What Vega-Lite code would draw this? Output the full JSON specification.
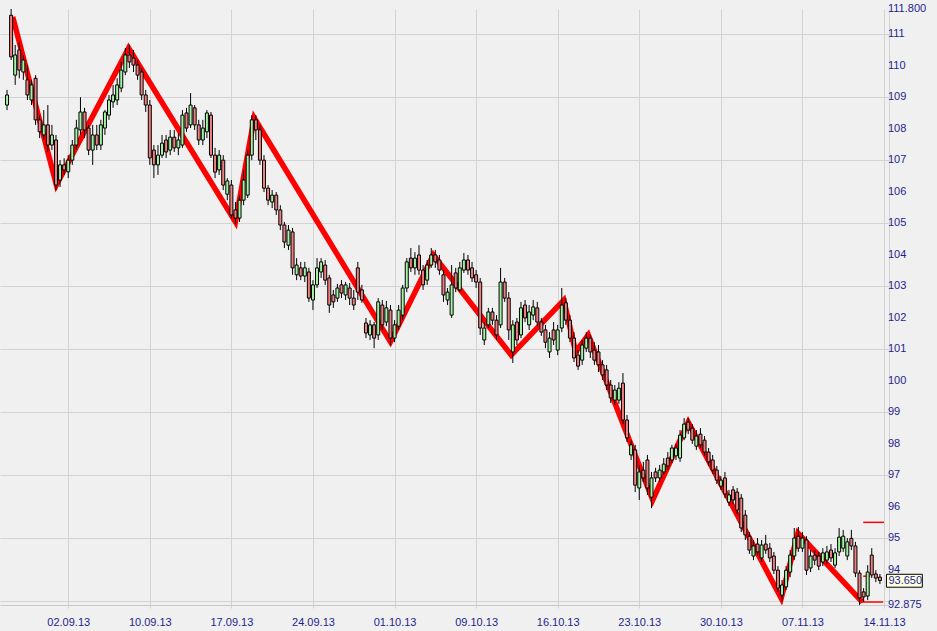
{
  "$schema": "https://vega.github.io/schema/vega-lite/v6.json",
  "width": 889,
  "height": 596,
  "autosize": {"type": "none"},
  "padding": {"left": 0, "top": 9, "right": 48, "bottom": 26},
  "background": "#f0f0f0",
  "config": {"view": {"stroke": null}, "axis": {"labelOverlap": false, "title": null}},
  "datasets": {
    "candles": [
      {"i":5,"o":108.75,"h":109.23,"l":108.59,"c":109.07},
      {"i":6,"o":111.6,"h":111.8,"l":110.18,"c":110.28},
      {"i":7,"o":109.7,"h":110.66,"l":109.39,"c":110.34},
      {"i":8,"o":110.5,"h":110.75,"l":109.6,"c":109.86},
      {"i":9,"o":109.8,"h":110.34,"l":109.55,"c":110.18},
      {"i":10,"o":109.55,"h":110.02,"l":108.91,"c":109.07},
      {"i":11,"o":108.91,"h":109.55,"l":108.75,"c":109.39},
      {"i":12,"o":109.6,"h":109.7,"l":108.12,"c":108.28},
      {"i":13,"o":108.28,"h":108.43,"l":107.7,"c":107.9},
      {"i":14,"o":107.8,"h":108.59,"l":107.64,"c":108.12},
      {"i":15,"o":108.12,"h":108.75,"l":107.26,"c":107.48},
      {"i":16,"o":107.48,"h":108.12,"l":107.32,"c":107.8},
      {"i":17,"o":107.64,"h":107.8,"l":106.05,"c":106.21},
      {"i":18,"o":106.37,"h":107.0,"l":106.15,"c":106.85},
      {"i":19,"o":106.85,"h":107.06,"l":106.53,"c":106.69},
      {"i":20,"o":106.63,"h":107.16,"l":106.43,"c":107.0},
      {"i":21,"o":107.0,"h":107.64,"l":106.85,"c":107.48},
      {"i":22,"o":107.48,"h":108.28,"l":107.32,"c":108.02},
      {"i":23,"o":107.96,"h":109.0,"l":107.8,"c":108.53},
      {"i":24,"o":108.53,"h":108.66,"l":107.7,"c":107.96},
      {"i":25,"o":108.02,"h":108.12,"l":107.16,"c":107.32},
      {"i":26,"o":107.32,"h":108.12,"l":106.85,"c":107.8},
      {"i":27,"o":107.8,"h":108.12,"l":107.32,"c":107.48},
      {"i":28,"o":107.48,"h":108.28,"l":107.32,"c":108.12},
      {"i":29,"o":108.02,"h":108.59,"l":107.8,"c":108.53},
      {"i":30,"o":108.43,"h":109.07,"l":108.28,"c":108.91},
      {"i":31,"o":108.85,"h":109.39,"l":108.66,"c":109.07},
      {"i":32,"o":108.91,"h":109.6,"l":108.75,"c":109.39},
      {"i":33,"o":109.29,"h":110.12,"l":109.16,"c":109.86},
      {"i":34,"o":109.8,"h":110.56,"l":109.7,"c":110.34},
      {"i":35,"o":110.34,"h":110.66,"l":109.93,"c":110.12},
      {"i":36,"o":110.24,"h":110.5,"l":109.8,"c":110.02},
      {"i":37,"o":110.02,"h":110.18,"l":109.55,"c":109.7},
      {"i":38,"o":109.8,"h":109.93,"l":108.91,"c":109.07},
      {"i":39,"o":109.07,"h":109.23,"l":108.53,"c":108.75},
      {"i":40,"o":108.75,"h":108.91,"l":106.85,"c":107.07},
      {"i":41,"o":107.32,"h":107.48,"l":106.43,"c":106.85},
      {"i":42,"o":106.85,"h":107.48,"l":106.53,"c":107.16},
      {"i":43,"o":107.16,"h":107.8,"l":107.07,"c":107.54},
      {"i":44,"o":107.64,"h":107.8,"l":107.07,"c":107.26},
      {"i":45,"o":107.32,"h":107.96,"l":107.16,"c":107.73},
      {"i":46,"o":107.73,"h":107.96,"l":107.26,"c":107.39},
      {"i":47,"o":107.39,"h":107.86,"l":107.16,"c":107.64},
      {"i":48,"o":107.48,"h":108.59,"l":107.39,"c":108.43},
      {"i":49,"o":108.5,"h":108.66,"l":107.9,"c":108.02},
      {"i":50,"o":108.12,"h":109.13,"l":108.02,"c":108.75},
      {"i":51,"o":108.66,"h":108.75,"l":107.96,"c":108.12},
      {"i":52,"o":108.12,"h":108.28,"l":107.48,"c":107.64},
      {"i":53,"o":107.64,"h":108.28,"l":107.48,"c":108.02},
      {"i":54,"o":107.9,"h":108.59,"l":107.7,"c":108.5},
      {"i":55,"o":108.43,"h":108.53,"l":107.07,"c":107.16},
      {"i":56,"o":107.16,"h":107.39,"l":106.43,"c":106.62},
      {"i":57,"o":106.69,"h":107.32,"l":106.53,"c":107.16},
      {"i":58,"o":107.0,"h":107.16,"l":106.05,"c":106.21},
      {"i":59,"o":105.92,"h":106.43,"l":105.73,"c":106.34},
      {"i":60,"o":106.21,"h":106.37,"l":105.16,"c":105.26},
      {"i":61,"o":105.42,"h":105.67,"l":104.97,"c":105.16},
      {"i":62,"o":105.16,"h":105.89,"l":105.04,"c":105.73},
      {"i":63,"o":105.73,"h":106.69,"l":105.57,"c":106.37},
      {"i":64,"o":105.89,"h":107.32,"l":105.8,"c":107.16},
      {"i":65,"o":107.16,"h":108.43,"l":107.0,"c":108.28},
      {"i":66,"o":108.28,"h":108.43,"l":107.64,"c":107.96},
      {"i":67,"o":107.96,"h":108.12,"l":106.85,"c":107.0},
      {"i":68,"o":107.0,"h":107.16,"l":105.99,"c":106.11},
      {"i":69,"o":106.11,"h":106.21,"l":105.57,"c":105.73},
      {"i":70,"o":105.67,"h":106.05,"l":105.48,"c":105.89},
      {"i":71,"o":105.89,"h":105.99,"l":105.26,"c":105.42},
      {"i":72,"o":105.42,"h":105.57,"l":104.78,"c":104.94},
      {"i":73,"o":104.94,"h":105.04,"l":104.21,"c":104.4},
      {"i":74,"o":104.3,"h":104.94,"l":104.15,"c":104.78},
      {"i":75,"o":104.72,"h":104.85,"l":103.36,"c":103.58},
      {"i":76,"o":103.36,"h":103.89,"l":103.19,"c":103.67},
      {"i":77,"o":103.58,"h":103.77,"l":103.19,"c":103.32},
      {"i":78,"o":103.32,"h":103.77,"l":103.13,"c":103.58},
      {"i":79,"o":103.45,"h":103.58,"l":102.5,"c":102.62},
      {"i":80,"o":102.56,"h":103.19,"l":102.24,"c":103.04},
      {"i":81,"o":103.04,"h":103.89,"l":102.94,"c":103.58},
      {"i":82,"o":103.45,"h":103.89,"l":103.26,"c":103.77},
      {"i":83,"o":103.67,"h":103.83,"l":103.04,"c":103.19},
      {"i":84,"o":103.26,"h":103.36,"l":102.15,"c":102.4},
      {"i":85,"o":102.72,"h":102.88,"l":102.31,"c":102.5},
      {"i":86,"o":102.62,"h":103.07,"l":102.5,"c":102.94},
      {"i":87,"o":103.04,"h":103.19,"l":102.62,"c":102.78},
      {"i":88,"o":102.72,"h":103.13,"l":102.56,"c":103.04},
      {"i":89,"o":102.94,"h":103.1,"l":102.4,"c":102.62},
      {"i":90,"o":102.62,"h":102.88,"l":102.24,"c":102.4},
      {"i":91,"o":103.58,"h":103.77,"l":102.56,"c":102.81},
      {"i":92,"o":102.88,"h":103.04,"l":102.47,"c":102.56},
      {"i":93,"o":101.83,"h":101.99,"l":101.35,"c":101.51},
      {"i":94,"o":101.45,"h":101.92,"l":101.29,"c":101.77},
      {"i":95,"o":101.77,"h":101.86,"l":101.03,"c":101.35},
      {"i":96,"o":101.45,"h":102.62,"l":101.29,"c":102.5},
      {"i":97,"o":102.4,"h":102.56,"l":101.61,"c":101.77},
      {"i":98,"o":101.86,"h":102.53,"l":101.73,"c":102.31},
      {"i":99,"o":102.24,"h":102.4,"l":101.13,"c":101.35},
      {"i":100,"o":101.35,"h":101.92,"l":101.22,"c":101.77},
      {"i":101,"o":101.73,"h":102.4,"l":101.61,"c":102.24},
      {"i":102,"o":102.08,"h":103.04,"l":101.92,"c":102.94},
      {"i":103,"o":102.94,"h":103.89,"l":102.81,"c":103.77},
      {"i":104,"o":103.89,"h":104.21,"l":103.45,"c":103.58},
      {"i":105,"o":103.58,"h":104.08,"l":103.36,"c":103.89},
      {"i":106,"o":103.99,"h":104.3,"l":103.36,"c":103.51},
      {"i":107,"o":103.51,"h":103.67,"l":102.88,"c":103.04},
      {"i":108,"o":103.19,"h":103.83,"l":103.04,"c":103.67},
      {"i":109,"o":103.67,"h":104.21,"l":103.58,"c":103.99},
      {"i":110,"o":103.99,"h":104.15,"l":103.58,"c":103.77},
      {"i":111,"o":103.83,"h":103.99,"l":103.36,"c":103.51},
      {"i":112,"o":103.36,"h":103.51,"l":102.5,"c":102.72},
      {"i":113,"o":102.56,"h":102.94,"l":102.4,"c":102.81},
      {"i":114,"o":102.08,"h":103.67,"l":101.99,"c":103.04},
      {"i":115,"o":103.42,"h":103.58,"l":102.81,"c":102.94},
      {"i":116,"o":102.88,"h":103.77,"l":102.81,"c":103.58},
      {"i":117,"o":103.51,"h":104.05,"l":103.42,"c":103.83},
      {"i":118,"o":103.83,"h":103.99,"l":103.36,"c":103.51},
      {"i":119,"o":103.58,"h":103.77,"l":103.13,"c":103.26},
      {"i":120,"o":103.36,"h":103.51,"l":102.94,"c":103.13},
      {"i":121,"o":103.13,"h":103.26,"l":101.45,"c":101.67},
      {"i":122,"o":101.29,"h":101.86,"l":101.13,"c":101.67},
      {"i":123,"o":101.77,"h":102.31,"l":101.67,"c":102.18},
      {"i":124,"o":102.18,"h":102.31,"l":101.77,"c":101.92},
      {"i":125,"o":101.92,"h":102.08,"l":101.29,"c":101.45},
      {"i":126,"o":101.77,"h":103.58,"l":101.67,"c":103.13},
      {"i":127,"o":103.13,"h":103.26,"l":102.5,"c":102.62},
      {"i":128,"o":102.62,"h":102.81,"l":101.29,"c":101.61},
      {"i":129,"o":100.91,"h":101.92,"l":100.56,"c":101.77},
      {"i":130,"o":101.86,"h":101.99,"l":101.13,"c":101.29},
      {"i":131,"o":101.45,"h":102.5,"l":101.35,"c":102.31},
      {"i":132,"o":102.4,"h":102.56,"l":101.86,"c":101.99},
      {"i":133,"o":101.77,"h":102.4,"l":101.61,"c":102.18},
      {"i":134,"o":102.08,"h":102.56,"l":101.92,"c":102.34},
      {"i":135,"o":102.31,"h":102.5,"l":101.73,"c":101.86},
      {"i":136,"o":101.86,"h":101.99,"l":101.42,"c":101.54},
      {"i":137,"o":101.61,"h":101.77,"l":101.03,"c":101.22},
      {"i":138,"o":100.91,"h":101.54,"l":100.72,"c":101.35},
      {"i":139,"o":101.61,"h":101.86,"l":101.13,"c":101.29},
      {"i":140,"o":100.97,"h":101.77,"l":100.81,"c":101.61},
      {"i":141,"o":101.67,"h":102.94,"l":101.54,"c":102.4},
      {"i":142,"o":102.47,"h":102.62,"l":101.77,"c":101.92},
      {"i":143,"o":101.92,"h":102.08,"l":101.22,"c":101.35},
      {"i":144,"o":101.35,"h":101.54,"l":100.59,"c":100.72},
      {"i":145,"o":100.81,"h":100.97,"l":100.34,"c":100.46},
      {"i":146,"o":100.65,"h":101.29,"l":100.5,"c":101.13},
      {"i":147,"o":101.03,"h":101.54,"l":100.91,"c":101.35},
      {"i":148,"o":101.35,"h":101.45,"l":100.72,"c":100.91},
      {"i":149,"o":100.97,"h":101.22,"l":100.5,"c":100.65},
      {"i":150,"o":100.91,"h":101.13,"l":100.27,"c":100.5},
      {"i":151,"o":100.5,"h":100.65,"l":100.02,"c":100.18},
      {"i":152,"o":100.34,"h":100.5,"l":99.7,"c":99.86},
      {"i":153,"o":99.86,"h":100.02,"l":99.29,"c":99.45},
      {"i":154,"o":99.38,"h":99.86,"l":99.23,"c":99.7},
      {"i":155,"o":99.38,"h":99.95,"l":99.26,"c":99.76},
      {"i":156,"o":99.92,"h":100.24,"l":98.62,"c":98.75},
      {"i":157,"o":98.75,"h":98.91,"l":98.05,"c":98.18},
      {"i":158,"o":97.64,"h":98.11,"l":97.48,"c":97.96},
      {"i":159,"o":97.8,"h":97.96,"l":96.46,"c":96.68},
      {"i":160,"o":96.59,"h":97.32,"l":96.21,"c":97.1},
      {"i":161,"o":97.16,"h":97.42,"l":96.78,"c":96.91},
      {"i":162,"o":97.48,"h":97.64,"l":96.37,"c":96.59},
      {"i":163,"o":96.3,"h":97.1,"l":95.95,"c":96.91},
      {"i":164,"o":97.1,"h":97.23,"l":96.78,"c":96.91},
      {"i":165,"o":96.91,"h":97.32,"l":96.78,"c":97.16},
      {"i":166,"o":97.1,"h":97.54,"l":97.0,"c":97.35},
      {"i":167,"o":97.54,"h":97.73,"l":97.16,"c":97.29},
      {"i":168,"o":97.48,"h":97.96,"l":97.38,"c":97.86},
      {"i":169,"o":97.61,"h":98.0,"l":97.48,"c":97.86},
      {"i":170,"o":97.54,"h":98.43,"l":97.42,"c":98.27},
      {"i":171,"o":98.18,"h":98.81,"l":98.11,"c":98.62},
      {"i":172,"o":98.68,"h":98.81,"l":98.3,"c":98.43},
      {"i":173,"o":98.49,"h":98.62,"l":97.99,"c":98.11},
      {"i":174,"o":97.92,"h":98.43,"l":97.8,"c":98.24},
      {"i":175,"o":98.3,"h":98.49,"l":97.86,"c":97.96},
      {"i":176,"o":98.11,"h":98.24,"l":97.61,"c":97.73},
      {"i":177,"o":97.73,"h":97.86,"l":97.29,"c":97.42},
      {"i":178,"o":97.48,"h":97.64,"l":97.04,"c":97.16},
      {"i":179,"o":97.16,"h":97.29,"l":96.72,"c":96.84},
      {"i":180,"o":96.65,"h":96.97,"l":96.53,"c":96.84},
      {"i":181,"o":96.91,"h":97.1,"l":96.27,"c":96.4},
      {"i":182,"o":96.14,"h":96.53,"l":96.02,"c":96.37},
      {"i":183,"o":96.53,"h":96.65,"l":96.08,"c":96.21},
      {"i":184,"o":96.46,"h":96.59,"l":95.76,"c":95.89},
      {"i":185,"o":96.27,"h":96.4,"l":95.19,"c":95.32},
      {"i":186,"o":95.73,"h":95.89,"l":94.94,"c":95.1},
      {"i":187,"o":95.06,"h":95.19,"l":94.5,"c":94.62},
      {"i":188,"o":94.43,"h":94.94,"l":94.3,"c":94.75},
      {"i":189,"o":94.81,"h":95.0,"l":94.43,"c":94.56},
      {"i":190,"o":94.37,"h":94.94,"l":94.24,"c":94.78},
      {"i":191,"o":94.81,"h":95.1,"l":94.5,"c":94.62},
      {"i":192,"o":94.68,"h":94.84,"l":94.24,"c":94.37},
      {"i":193,"o":94.43,"h":94.56,"l":93.86,"c":93.98},
      {"i":194,"o":93.98,"h":94.11,"l":93.29,"c":93.41},
      {"i":195,"o":93.19,"h":93.67,"l":92.99,"c":93.51},
      {"i":196,"o":93.45,"h":94.11,"l":93.35,"c":93.98},
      {"i":197,"o":93.92,"h":94.62,"l":93.76,"c":94.46},
      {"i":198,"o":94.43,"h":95.32,"l":94.3,"c":95.0},
      {"i":199,"o":95.06,"h":95.35,"l":94.56,"c":94.68},
      {"i":200,"o":94.68,"h":95.19,"l":94.56,"c":95.0},
      {"i":201,"o":94.94,"h":95.06,"l":93.83,"c":93.98},
      {"i":202,"o":94.05,"h":94.62,"l":93.92,"c":94.43},
      {"i":203,"o":94.46,"h":94.62,"l":94.14,"c":94.3},
      {"i":204,"o":94.43,"h":94.56,"l":93.98,"c":94.11},
      {"i":205,"o":94.24,"h":94.68,"l":94.11,"c":94.53},
      {"i":206,"o":94.3,"h":94.75,"l":94.18,"c":94.56},
      {"i":207,"o":94.62,"h":94.81,"l":94.24,"c":94.37},
      {"i":208,"o":94.14,"h":94.68,"l":94.05,"c":94.53},
      {"i":209,"o":94.56,"h":95.32,"l":94.43,"c":95.03},
      {"i":210,"o":94.68,"h":95.26,"l":94.56,"c":95.06},
      {"i":211,"o":94.43,"h":95.0,"l":94.3,"c":94.88},
      {"i":212,"o":94.99,"h":95.26,"l":94.62,"c":94.75},
      {"i":213,"o":94.75,"h":94.88,"l":93.76,"c":93.89},
      {"i":214,"o":93.89,"h":93.98,"l":92.875,"c":93.1},
      {"i":215,"o":93.29,"h":93.41,"l":92.97,"c":93.13},
      {"i":216,"o":93.16,"h":94.14,"l":93.03,"c":93.92},
      {"i":217,"o":94.46,"h":94.68,"l":93.73,"c":93.83},
      {"i":218,"o":93.86,"h":93.98,"l":93.6,"c":93.73},
      {"i":219,"o":93.76,"h":93.86,"l":93.54,"c":93.65}
    ],
    "zig": [
      {"i":6.4,"p":111.55},{"i":17.1,"p":106.21},{"i":34.8,"p":110.56},{"i":61.0,"p":105.04},
      {"i":65.6,"p":108.34},{"i":99.0,"p":101.23},{"i":109.5,"p":103.99},{"i":128.6,"p":100.81},
      {"i":141.5,"p":102.56},{"i":144.4,"p":100.91},{"i":147.5,"p":101.45},{"i":163.3,"p":96.21},
      {"i":172.0,"p":98.68},{"i":194.8,"p":93.09},{"i":198.9,"p":95.16},{"i":214.7,"p":92.97}
    ],
    "levels": [
      {"i":214.9,"i2":220,"p":95.5},
      {"i":214.9,"i2":216.6,"p":93.79},
      {"i":214.2,"i2":219.8,"p":92.97}
    ],
    "ylabels": [
      {"p":111.8,"label":"111.800"},{"p":111,"label":"111"},{"p":110,"label":"110"},{"p":109,"label":"109"},
      {"p":108,"label":"108"},{"p":107,"label":"107"},{"p":106,"label":"106"},{"p":105,"label":"105"},
      {"p":104,"label":"104"},{"p":103,"label":"103"},{"p":102,"label":"102"},{"p":101,"label":"101"},
      {"p":100,"label":"100"},{"p":99,"label":"99"},{"p":98,"label":"98"},{"p":97,"label":"97"},
      {"p":96,"label":"96"},{"p":95,"label":"95"},{"p":94,"label":"94"},{"p":92.875,"label":"92.875"}
    ],
    "last": [{"i":220.6,"p":93.65,"label":"93.650"}]
  },
  "layer": [
    {
      "data": {"name": "zig"},
      "mark": {"type": "line", "color": "#ff0000", "strokeWidth": 5.5, "clip": true},
      "encoding": {
        "x": {"field": "i", "type": "quantitative",
              "scale": {"domain": [4.5, 220], "nice": false, "zero": false},
              "axis": {"values": [20,40,60,80,100,120,140,160,180,200,220],
                       "labelExpr": "['02.09.13','10.09.13','17.09.13','24.09.13','01.10.13','09.10.13','16.10.13','23.10.13','30.10.13','07.11.13','14.11.13'][round(datum.value/20)-1]",
                       "title": null, "grid": true, "gridColor": "#d3d3d3", "gridWidth": 1,
                       "domainColor": "#c8c8c8", "tickColor": "#d3d3d3", "tickSize": 3,
                       "labelPadding": 8, "labelFont": "Liberation Sans", "labelFontSize": 11,
                       "labelColor": "#1e1e8c", "labelFlush": false, "labelOverlap": false, "labelBound": false}},
        "y": {"field": "p", "type": "quantitative",
              "scale": {"domain": [92.875, 111.8], "nice": false, "zero": false},
              "axis": {"orient": "right",
                       "values": [93,94,95,96,97,98,99,100,101,102,103,104,105,106,107,108,109,110,111,111.8],
                       "labels": false, "title": null, "grid": true, "gridColor": "#d3d3d3", "gridWidth": 1,
                       "domainColor": "#d3d3d3", "ticks": false}}
      }
    },
    {
      "data": {"name": "levels"},
      "mark": {"type": "rule", "color": "#ff0000", "strokeWidth": 1.5},
      "encoding": {
        "x": {"field": "i", "type": "quantitative", "scale": {"domain": [4.5, 220], "nice": false, "zero": false}},
        "x2": {"field": "i2"},
        "y": {"field": "p", "type": "quantitative", "scale": {"domain": [92.875, 111.8], "nice": false, "zero": false}}
      }
    },
    {
      "data": {"name": "candles"},
      "mark": {"type": "rule", "color": "#000000", "strokeWidth": 1},
      "encoding": {
        "x": {"field": "i", "type": "quantitative", "scale": {"domain": [4.5, 220], "nice": false, "zero": false}},
        "y": {"field": "l", "type": "quantitative", "scale": {"domain": [92.875, 111.8], "nice": false, "zero": false}},
        "y2": {"field": "h"}
      }
    },
    {
      "data": {"name": "candles"},
      "mark": {"type": "bar", "size": 3, "stroke": "#000000", "strokeWidth": 1},
      "encoding": {
        "x": {"field": "i", "type": "quantitative", "scale": {"domain": [4.5, 220], "nice": false, "zero": false}},
        "y": {"field": "o", "type": "quantitative", "scale": {"domain": [92.875, 111.8], "nice": false, "zero": false}},
        "y2": {"field": "c"},
        "fill": {"condition": {"test": "datum.c >= datum.o", "value": "#a4f4a4"}, "value": "#f08080"}
      }
    },
    {
      "data": {"name": "ylabels"},
      "mark": {"type": "text", "align": "left", "baseline": "middle", "dx": 4, "font": "Liberation Sans", "fontSize": 11, "color": "#1e1e8c"},
      "encoding": {
        "x": {"datum": 220, "type": "quantitative", "scale": {"domain": [4.5, 220], "nice": false, "zero": false}},
        "y": {"field": "p", "type": "quantitative", "scale": {"domain": [92.875, 111.8], "nice": false, "zero": false}},
        "text": {"field": "label"}
      }
    },
    {
      "data": {"name": "last"},
      "mark": {"type": "rect", "fill": "#ffffe1", "stroke": "#000000", "strokeWidth": 1},
      "encoding": {
        "x": {"field": "i", "type": "quantitative", "scale": {"domain": [4.5, 220], "nice": false, "zero": false}},
        "x2": {"datum": 229.4},
        "y": {"datum": 93.85, "type": "quantitative", "scale": {"domain": [92.875, 111.8], "nice": false, "zero": false}},
        "y2": {"datum": 93.44}
      }
    },
    {
      "data": {"name": "last"},
      "mark": {"type": "text", "align": "left", "baseline": "middle", "dx": 2, "font": "Liberation Sans", "fontSize": 11, "color": "#1e1e8c"},
      "encoding": {
        "x": {"field": "i", "type": "quantitative", "scale": {"domain": [4.5, 220], "nice": false, "zero": false}},
        "y": {"field": "p", "type": "quantitative", "scale": {"domain": [92.875, 111.8], "nice": false, "zero": false}},
        "text": {"field": "label"}
      }
    }
  ]
}
